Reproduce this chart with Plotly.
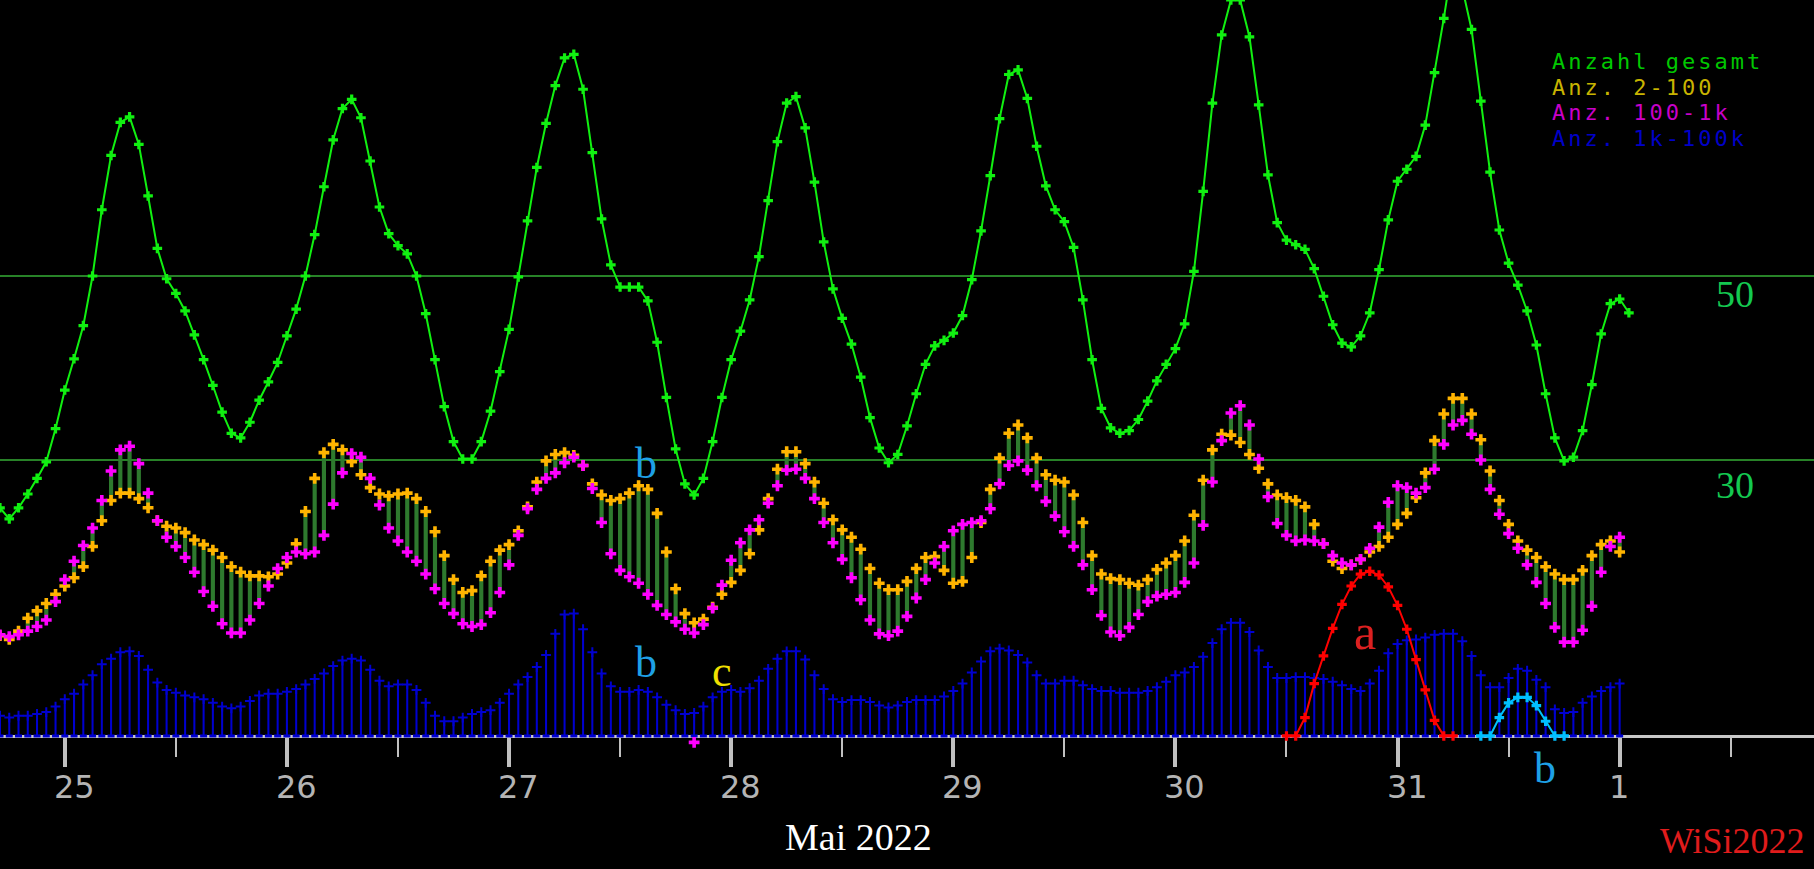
import plotly.graph_objects as go

# hourly values, hour 0 = 25 May 2022 00:00
hours = list(range(-7, 169))
green_hours = list(range(-7, 170))

gesamt = [24.8, 23.6, 24.8, 26.3, 28.0, 29.8, 33.4,
          37.6, 41.0, 44.6, 50.0, 57.2, 63.1, 66.7, 67.3, 64.3, 58.7, 53.0, 49.7,
          48.1, 46.2, 43.6, 40.9, 38.1, 35.2, 32.9, 32.4, 34.1, 36.5, 38.5, 40.6,
          43.5, 46.4, 50.0, 54.5, 59.7, 64.8, 68.2, 69.2, 67.2, 62.5, 57.5, 54.6,
          53.3, 52.4, 50.0, 45.9, 40.9, 35.8, 32.0, 30.1, 30.1, 32.0, 35.3, 39.6,
          44.2, 49.9, 56.0, 61.8, 66.6, 70.7, 73.7, 74.1, 70.3, 63.4, 56.2, 51.2,
          48.8, 48.8, 48.8, 47.3, 42.8, 36.8, 31.2, 27.4, 26.2, 28.0, 32.0, 36.8,
          40.9, 44.0, 47.4, 52.1, 58.2, 64.6, 68.8, 69.5, 66.1, 60.2, 53.7, 48.6,
          45.4, 42.6, 39.0, 34.6, 31.3, 29.7, 30.6, 33.7, 37.2, 40.4, 42.4, 43.0,
          43.8, 45.7, 49.6, 54.9, 60.9, 67.1, 71.9, 72.4, 69.3, 64.1, 59.8, 57.2,
          55.9, 53.1, 47.4, 40.9, 35.6, 33.5, 32.9, 33.2, 34.4, 36.4, 38.6, 40.4,
          42.1, 44.8, 50.5, 59.2, 68.8, 76.2, 80.0, 80.0, 76.0, 68.6, 61.0, 55.8,
          53.9, 53.4, 52.9, 50.8, 47.8, 44.7, 42.7, 42.3, 43.5, 46.0, 50.7, 56.1,
          60.3, 61.6, 63.0, 66.4, 72.1, 78.0, 84.4, 81.3, 76.8, 69.0, 61.3, 55.0,
          51.4, 49.0, 46.2, 42.5, 37.2, 32.4, 29.9, 30.3, 33.2, 38.2, 43.7, 47.0,
          47.5, 46.0]

anz_2_100 = [10.9, 10.5, 11.4, 12.8, 13.6, 14.4, 15.4,
             16.3, 17.2, 18.4, 20.6, 23.4, 25.6, 26.4, 26.4, 25.8, 24.8, 23.4, 22.8,
             22.6, 22.1, 21.3, 20.8, 20.2, 19.4, 18.4, 17.8, 17.4, 17.4, 17.3, 17.6,
             18.8, 20.9, 24.4, 28.0, 30.8, 31.7, 31.1, 29.8, 28.4, 27.0, 26.3, 26.1,
             26.3, 26.4, 25.8, 24.4, 22.2, 19.6, 17.0, 15.6, 15.8, 17.4, 19.0, 20.2,
             20.8, 22.3, 24.9, 27.6, 29.9, 30.6, 30.8, 30.5, 29.4, 27.4, 26.2, 25.6,
             25.8, 26.4, 27.2, 26.8, 24.2, 20.0, 16.0, 13.3, 12.3, 12.7, 14.0, 15.4,
             16.7, 18.0, 19.8, 22.4, 25.8, 29.0, 30.9, 30.9, 29.6, 27.6, 25.3, 23.5,
             22.4, 21.6, 20.3, 18.2, 16.6, 15.9, 15.9, 16.8, 18.2, 19.4, 19.5, 18.0,
             16.6, 16.8, 19.4, 23.2, 26.8, 30.2, 32.9, 33.8, 32.4, 30.2, 28.4, 27.8,
             27.6, 26.2, 23.2, 19.6, 17.6, 17.1, 17.0, 16.6, 16.4, 17.0, 18.1, 18.8,
             19.6, 21.2, 24.0, 27.8, 31.1, 32.8, 32.7, 31.9, 30.6, 29.1, 27.4, 26.2,
             25.9, 25.6, 24.9, 23.0, 20.9, 19.0, 18.2, 18.6, 19.2, 20.0, 20.6, 21.6,
             23.0, 24.2, 25.9, 28.6, 32.1, 35.0, 36.7, 36.7, 35.0, 32.2, 28.8, 25.6,
             23.0, 21.2, 20.2, 19.4, 18.4, 17.6, 17.0, 17.0, 18.0, 19.6, 20.8, 21.2,
             20.0]

anz_100_1k = [11.0, 10.8, 11.0, 11.4, 11.9, 12.6, 14.6,
              17.0, 19.0, 20.7, 22.6, 25.6, 28.8, 31.1, 31.5, 29.6, 26.4, 23.4, 21.6,
              20.6, 19.4, 17.8, 15.7, 14.1, 12.2, 11.2, 11.2, 12.6, 14.4, 16.3, 18.2,
              19.4, 20.0, 19.8, 20.0, 21.8, 25.2, 28.6, 30.7, 30.3, 28.0, 25.1, 22.6,
              21.2, 20.0, 19.0, 17.6, 16.0, 14.4, 13.3, 12.2, 11.9, 12.1, 13.4, 15.6,
              18.6, 21.8, 24.7, 26.8, 28.0, 28.6, 29.7, 30.3, 29.4, 26.9, 23.2, 19.8,
              18.0, 17.3, 16.6, 15.4, 14.2, 13.2, 12.4, 11.6, 11.2, 12.1, 13.9, 16.4,
              19.1, 21.0, 22.4, 23.5, 25.3, 27.2, 28.9, 29.0, 28.0, 25.8, 23.2, 21.0,
              19.2, 17.2, 14.8, 12.6, 11.1, 10.9, 11.4, 13.0, 15.0, 17.0, 18.8, 20.6,
              22.3, 23.0, 23.2, 23.4, 24.7, 27.4, 29.4, 29.9, 28.9, 27.2, 25.5, 23.9,
              22.2, 20.6, 18.6, 15.9, 13.1, 11.3, 10.9, 11.8, 13.2, 14.6, 15.2, 15.4,
              15.6, 16.7, 18.8, 22.9, 27.6, 32.1, 35.1, 35.9, 33.8, 30.1, 26.0, 23.1,
              21.8, 21.2, 21.3, 21.2, 20.9, 19.6, 18.8, 18.6, 19.2, 20.4, 22.7, 25.4,
              27.2, 27.0, 26.4, 27.0, 29.0, 31.7, 33.8, 34.3, 32.8, 30.0, 26.8, 24.1,
              22.0, 20.4, 18.6, 16.7, 14.4, 11.8, 10.2, 10.2, 11.5, 14.1, 17.8, 20.6,
              21.6]

anz_1k_100k = [2.2, 2.0, 2.2, 2.2, 2.4, 2.6, 3.2,
               4.0, 4.6, 5.6, 6.6, 7.8, 8.4, 9.1, 9.2, 8.7, 7.2, 5.8, 5.0,
               4.7, 4.4, 4.2, 4.0, 3.6, 3.2, 3.0, 3.2, 3.8, 4.4, 4.6, 4.6,
               4.8, 5.1, 5.6, 6.2, 6.8, 7.6, 8.2, 8.4, 8.2, 7.2, 6.0, 5.4,
               5.6, 5.6, 5.0, 3.6, 2.2, 1.6, 1.6, 2.0, 2.4, 2.6, 2.8, 3.6,
               4.6, 5.6, 6.4, 7.5, 8.8, 11.1, 13.2, 13.3, 11.6, 9.1, 6.8, 5.4,
               4.8, 4.8, 5.0, 4.8, 4.2, 3.4, 2.8, 2.4, 2.5, 3.2, 4.2, 4.8,
               5.0, 4.8, 5.2, 6.0, 7.3, 8.4, 9.2, 9.2, 8.3, 6.6, 5.1, 4.0,
               3.7, 3.9, 3.9, 3.7, 3.3, 3.1, 3.3, 3.7, 3.9, 3.9, 3.9, 4.3,
               4.9, 5.7, 6.9, 8.1, 9.2, 9.5, 9.3, 8.8, 8.0, 6.6, 5.7, 5.7,
               6.0, 6.0, 5.5, 5.1, 4.9, 4.9, 4.7, 4.7, 4.7, 4.9, 5.3, 5.9,
               6.6, 6.9, 7.5, 8.6, 10.1, 11.6, 12.3, 12.3, 11.3, 9.3, 7.5, 6.3,
               6.3, 6.4, 6.4, 6.3, 6.2, 5.9, 5.5, 5.1, 4.9, 5.7, 7.1, 9.0,
               10.0, 10.4, 10.5, 10.7, 11.0, 11.1, 11.1, 10.3, 8.7, 6.6, 5.3, 5.3,
               6.3, 7.3, 7.1, 6.1, 5.3, 2.9, 2.5, 2.6, 3.6, 4.3, 4.9, 5.3,
               5.7]

# marked events
a_hours = list(range(132, 151))
a_vals = [0, 0, 2.0, 5.7, 8.7, 11.7, 14.3, 16.3, 17.6, 17.9, 17.5, 16.2, 14.2, 11.6, 8.3, 5.0, 1.7, 0, 0]
b_hours = list(range(153, 163))
b_vals = [0, 0, 2.0, 3.6, 4.2, 4.2, 3.3, 1.6, 0, 0]
stray_hours = [68]
stray_vals = [-0.7]

day_hours = [0, 24, 48, 72, 96, 120, 144, 168]
day_labels = ["25", "26", "27", "28", "29", "30", "31", "1"]
half_hours = [12, 36, 60, 84, 108, 132, 156, 180]

GREEN = "#11f011"
ORANGE = "#ffb400"
MAGENTA = "#ff00ff"
BLUE = "#0000d0"
BARGREEN = "rgb(46,122,46)"

lo = [min(p, q) for p, q in zip(anz_2_100, anz_100_1k)]
span = [abs(p - q) for p, q in zip(anz_2_100, anz_100_1k)]

fig = go.Figure()

# blue stems
fig.add_trace(go.Bar(x=hours, y=anz_1k_100k, width=0.22,
                     marker=dict(color=BLUE, line=dict(width=0))))
fig.add_trace(go.Scatter(x=hours, y=anz_1k_100k, mode="markers",
                         marker=dict(symbol="cross-thin", size=7,
                                     line=dict(color=BLUE, width=2))))
fig.add_trace(go.Scatter(x=hours, y=[0] * len(hours), mode="markers",
                         marker=dict(symbol="line-ew", size=5,
                                     line=dict(color=BLUE, width=3))))

# range bars between the two classes
fig.add_trace(go.Bar(x=hours, y=span, base=lo, width=0.45,
                     marker=dict(color=BARGREEN, line=dict(width=0))))
fig.add_trace(go.Scatter(x=hours, y=anz_2_100, mode="markers",
                         marker=dict(symbol="cross", size=9, color=ORANGE)))
fig.add_trace(go.Scatter(x=hours, y=anz_100_1k, mode="markers",
                         marker=dict(symbol="cross", size=9, color=MAGENTA)))
fig.add_trace(go.Scatter(x=stray_hours, y=stray_vals, mode="markers",
                         marker=dict(symbol="cross", size=9, color=MAGENTA)))

# total
fig.add_trace(go.Scatter(x=green_hours, y=gesamt, mode="lines+markers",
                         line=dict(color=GREEN, width=2),
                         marker=dict(symbol="cross", size=8, color=GREEN)))

# events a / b
fig.add_trace(go.Scatter(x=a_hours, y=a_vals, mode="lines+markers",
                         line=dict(color="#ff0000", width=2),
                         marker=dict(symbol="cross", size=8, color="#ff0000")))
fig.add_trace(go.Scatter(x=b_hours, y=b_vals, mode="lines+markers",
                         line=dict(color="#00c0ff", width=2),
                         marker=dict(symbol="cross", size=8, color="#00c0ff")))

ann = []
for h, lab in zip(day_hours, day_labels):
    ann.append(dict(x=h, y=0, xref="x", yref="y", text=lab, showarrow=False,
                    xanchor="left", yanchor="middle", xshift=-13, yshift=-51,
                    font=dict(family="DejaVu Sans", size=32, color="#b4b4b4")))

for val, txt, dy in [(50, "50", -18), (30, "30", -25)]:
    ann.append(dict(x=0.9565, y=val, xref="paper", yref="y", text=txt, showarrow=False,
                    xanchor="center", yanchor="middle", yshift=dy,
                    font=dict(family="Liberation Serif", size=38, color="rgb(20,200,80)")))

# legend: coloured text lines, no symbols
legend_items = [("Anzahl gesamt", "#00c800"), ("Anz. 2-100", "#c8b400"),
                ("Anz. 100-1k", "#c800c8"), ("Anz. 1k-100k", "#0000c8")]
for i, (txt, col) in enumerate(legend_items):
    ann.append(dict(x=0.855, y=0.9292 - i * 0.0295, xref="paper", yref="paper",
                    text="<span style='letter-spacing:3px'>%s</span>" % txt,
                    showarrow=False, xanchor="left", yanchor="middle", borderpad=0,
                    font=dict(family="DejaVu Sans Mono", size=22, color=col)))

letters = [("b", 0.3561, 0.4672, "#1ea0e6", 44),
           ("b", 0.3561, 0.2371, "#1ea0e6", 44),
           ("c", 0.398, 0.2267, "#f0e000", 44),
           ("a", 0.7525, 0.2727, "#dc2020", 50),
           ("b", 0.8517, 0.1162, "#1ea0e6", 44)]
for txt, x, y, col, sz in letters:
    ann.append(dict(x=x, y=y, xref="paper", yref="paper", text=txt, showarrow=False,
                    xanchor="center", yanchor="middle",
                    font=dict(family="Liberation Serif", size=sz, color=col)))

ann.append(dict(x=0.473, y=0.0368, xref="paper", yref="paper", text="Mai 2022",
                showarrow=False, xanchor="center", yanchor="middle",
                font=dict(family="Liberation Serif", size=38, color="white")))
ann.append(dict(x=0.9548, y=0.032, xref="paper", yref="paper", text="WiSi2022",
                showarrow=False, xanchor="center", yanchor="middle",
                font=dict(family="Liberation Serif", size=36, color="#e01c1c")))

fig.update_layout(
    width=1814, height=869, autosize=False,
    margin=dict(l=0, r=0, t=0, b=0),
    paper_bgcolor="black", plot_bgcolor="black",
    showlegend=False, barmode="overlay",
    annotations=ann,
    xaxis=dict(range=[-7.0, 189.0], anchor="free", position=14.46 / 94.46,
               showgrid=False, zeroline=False, showline=True,
               linecolor="#c8c8c8", linewidth=3, layer="below traces",
               tickmode="array", tickvals=day_hours, showticklabels=False,
               ticks="outside", ticklen=29, tickwidth=4, tickcolor="#c0c0c0",
               minor=dict(tickmode="array", tickvals=half_hours, ticks="outside",
                          ticklen=19, tickwidth=2, tickcolor="#c0c0c0")),
    yaxis=dict(range=[-14.46, 80.0], tickmode="array", tickvals=[30, 50],
               showticklabels=False, showgrid=True, gridcolor="rgb(40,130,40)",
               gridwidth=2, zeroline=False, layer="below traces"),
)

fig.write_html("out.html", config={"displayModeBar": False},
               post_script="document.body.style.margin='0';"
                           "document.body.style.background='black';")
